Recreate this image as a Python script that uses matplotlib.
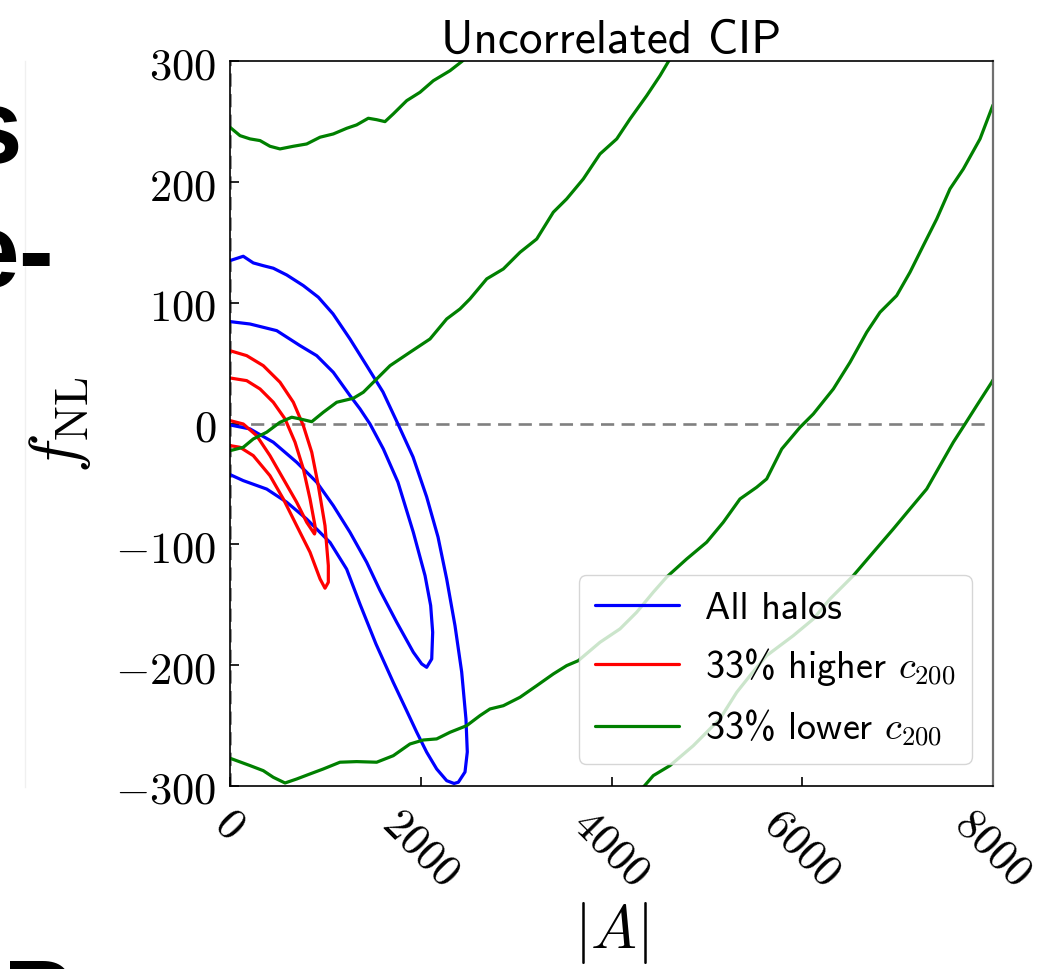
import os
import matplotlib
matplotlib.use("Agg")
import matplotlib as mpl
import matplotlib.pyplot as plt
from matplotlib.font_manager import FontProperties
from matplotlib.lines import Line2D

plt.rcParams["mathtext.fontset"] = "cm"
plt.rcParams["axes.unicode_minus"] = False

# ---------------- data ----------------
title = "Uncorrelated CIP"
xlabel = r"$|A|$"
ylabel = r"$f_{\rm NL}$"
xticks = [0, 2000, 4000, 6000, 8000]
xtick_labels = [r"$0$", r"$2000$", r"$4000$", r"$6000$", r"$8000$"]
yticks = [-300, -200, -100, 0, 100, 200, 300]
ytick_labels = [r"$-300$", r"$-200$", r"$-100$", r"$0$", r"$100$", r"$200$", r"$300$"]
series_labels = ["All halos", r"33% higher $c_{200}$", r"33% lower $c_{200}$"]
series_colors = ["blue", "red", "green"]

# All halos: outer (2 sigma) contour, upper branch then lower branch
blue_outer_A = [0, 139, 244, 349, 454, 595, 769, 926, 1080, 1258, 1433, 1604, 1761,
                1919, 2062, 2181, 2272, 2359, 2429, 2474, 2488, 2464, 2394, 2349,
                2272, 2167, 2062, 1958, 1853, 1712, 1531, 1363, 1223, 1049, 805,
                595, 385, 139, 0]
blue_outer_f = [135.1, 138.7, 133.2, 130.9, 128.8, 123.2, 114.4, 104.8, 91.0, 70.2,
                48.1, 26.3, -0.2, -27.5, -60.6, -93.8, -128.6, -167.2, -205.5,
                -244.5, -271.8, -288.4, -296.9, -297.9, -295.6, -285.9, -272.0,
                -255.5, -237.8, -214.2, -182.5, -149.4, -120.4, -98.3, -79.0,
                -65.0, -54.1, -47.1, -42.1]
# All halos: inner (1 sigma) contour
blue_inner_A = [0, 210, 490, 734, 909, 1083, 1258, 1363, 1468, 1608, 1761, 1922, 2045,
                2104, 2125, 2115, 2062, 2010, 1922, 1748, 1573, 1433, 1258, 1083,
                909, 699, 454, 210, 0]
blue_inner_f = [84.6, 82.6, 77.1, 64.7, 56.4, 42.6, 23.3, 12.3, -0.2, -20.9, -48.4,
                -89.9, -125.8, -150.6, -172.7, -194.8, -201.7, -198.9, -189.2,
                -164.4, -138.1, -114.7, -89.9, -67.8, -48.4, -31.9, -15.3, -4.3, -1.0]

# 33% higher c200: outer contour
red_outer_A = [0, 175, 349, 524, 664, 769, 857, 926, 996, 1031, 1031, 996, 944, 839,
               699, 559, 419, 244, 105, 0]
red_outer_f = [60.5, 56.4, 48.1, 34.4, 17.8, -1.6, -23.6, -51.3, -84.4, -117.5,
               -131.3, -136.2, -128.5, -106.4, -84.4, -62.3, -43.0, -26.4, -19.5, -18.1]
# 33% higher c200: inner contour
red_inner_A = [0, 175, 315, 454, 577, 682, 769, 839, 891, 891, 886, 804, 699, 559,
               419, 280, 139, 0]
red_inner_f = [37.9, 35.7, 28.8, 17.8, 4.0, -15.3, -37.4, -62.3, -84.4, -89.9, -91.3,
               -81.6, -65.0, -45.7, -26.4, -9.9, -0.2, 2.6]

# 33% lower c200: four open branches of the two contours
green_1_A = [0, 105, 210, 315, 419, 524, 664, 804, 944, 1083, 1224, 1328, 1450, 1538,
             1625, 1712, 1853, 1992, 2132, 2307, 2429, 2474]
green_1_f = [245.5, 238.6, 235.9, 234.5, 229.8, 227.6, 229.8, 231.7, 237.3, 240.0,
             244.7, 247.5, 253.0, 251.8, 250.2, 256.6, 267.6, 274.5, 284.1, 292.4,
             299.9, 303.0]
green_2_A = [0, 139, 244, 385, 524, 647, 734, 857, 978, 1119, 1293, 1398, 1538, 1678,
             1887, 2097, 2272, 2412, 2516, 2692, 2866, 3041, 3216, 3390, 3530, 3704,
             3879, 4055, 4194, 4369, 4509, 4596, 4634]
green_2_f = [-22.3, -19.5, -12.6, -7.0, 1.2, 5.4, 4.0, 1.7, 9.5, 17.8, 21.1, 26.1,
             37.1, 48.1, 59.2, 70.2, 86.8, 95.1, 103.4, 120.0, 128.2, 142.0, 153.0,
             175.2, 186.2, 202.7, 223.4, 235.9, 252.4, 271.7, 288.3, 299.9, 304.6]
green_3_A = [0, 210, 349, 454, 577, 699, 839, 978, 1153, 1328, 1538, 1712, 1887, 2027,
             2167, 2307, 2482, 2621, 2726, 2866, 3041, 3216, 3390, 3530, 3652, 3879,
             4089, 4264, 4438, 4579, 4788, 4998, 5172, 5347, 5522, 5627, 5785, 5977,
             6116, 6326, 6501, 6676, 6815, 6990, 7130, 7269, 7410, 7549, 7689, 7864,
             8000]
green_3_f = [-277.0, -283.1, -287.3, -292.8, -297.5, -294.2, -290.0, -285.9, -280.3,
             -279.8, -280.3, -274.9, -265.2, -261.9, -261.0, -255.5, -250.0, -241.7,
             -236.2, -233.5, -226.5, -216.9, -207.2, -200.3, -196.2, -181.0, -169.9,
             -156.1, -139.5, -126.9, -112.0, -98.1, -81.6, -62.3, -52.6, -45.7, -20.9,
             -2.9, 8.1, 28.8, 50.9, 75.8, 92.3, 106.1, 125.5, 147.5, 169.6, 194.5,
             211.0, 235.9, 264.0]
green_4_A = [4333, 4438, 4613, 4858, 5138, 5313, 5452, 5627, 5906, 6116, 6291, 6466,
             6535, 6745, 6955, 7130, 7305, 7444, 7584, 7707, 7829, 7987, 8000]
green_4_f = [-301.0, -291.4, -283.1, -266.6, -244.3, -222.4, -208.6, -192.0, -175.5,
             -161.7, -145.1, -131.3, -125.8, -106.4, -87.1, -70.5, -54.0, -34.7,
             -15.3, -0.2, 15.0, 34.4, 36.3]

# slide text fragments visible at the left edge of the screenshot
fragments = ["s", "e-", "P"]

# ---------------- plot ----------------
cmss_path = os.path.join(mpl.get_data_path(), "fonts", "ttf", "cmss10.ttf")
title_font = FontProperties(fname=cmss_path, size=34)
legend_font = FontProperties(fname=cmss_path, size=27.5)

fig = plt.figure(figsize=(10.48, 9.70), dpi=100)
ax = fig.add_axes([0.21947, 0.18866, 0.72805, 0.74691])

style = dict(lw=2.3, solid_joinstyle="round", solid_capstyle="round")
ax.plot(blue_outer_A, blue_outer_f, color=series_colors[0], label=series_labels[0], **style)
ax.plot(blue_inner_A, blue_inner_f, color=series_colors[0], **style)
ax.plot(red_outer_A, red_outer_f, color=series_colors[1], label=series_labels[1], **style)
ax.plot(red_inner_A, red_inner_f, color=series_colors[1], **style)
ax.plot(green_1_A, green_1_f, color=series_colors[2], label=series_labels[2], **style)
ax.plot(green_2_A, green_2_f, color=series_colors[2], **style)
ax.plot(green_3_A, green_3_f, color=series_colors[2], **style)
ax.plot(green_4_A, green_4_f, color=series_colors[2], **style)

ax.axhline(0, color="gray", ls="--", dashes=(5, 2.8), lw=1.9, zorder=1)
ax.axvline(0, color="gray", ls="--", dashes=(5, 2.8), lw=1.9, zorder=1)

ax.set_xlim(0, 8000)
ax.set_ylim(-300, 300)
ax.set_xticks(xticks)
ax.set_xticklabels(xtick_labels)
ax.set_yticks(yticks)
ax.set_yticklabels(ytick_labels)
ax.tick_params(axis="both", direction="in", length=6.5, width=1.2, labelsize=32,
               top=False, right=False)
ax.tick_params(axis="x", labelrotation=-45, pad=10)
ax.tick_params(axis="y", pad=10)
for side in ["left", "bottom", "top"]:
    ax.spines[side].set_linewidth(1.2)
    ax.spines[side].set_color("black")
ax.spines["right"].set_linewidth(1.6)
ax.spines["right"].set_color("#707070")

ax.set_title(title, fontproperties=title_font, pad=7)
ax.set_xlabel(xlabel, fontsize=44)
ax.set_ylabel(ylabel, fontsize=48)
ax.xaxis.set_label_coords(0.5, -0.156)
ax.yaxis.set_label_coords(-0.18, 0.5)

ax.legend(loc="lower right", bbox_to_anchor=((972 - 230) / 763, (787 - 765) / 724.5),
          borderaxespad=0, prop=legend_font, handlelength=2.2, handletextpad=0.7,
          labelspacing=0.5, borderpad=0.42, framealpha=0.8, fancybox=True)

# background slide fragments
frag_font = dict(family="Liberation Sans", weight="bold", size=76, color="black")
fig.text(22 / 1048, 1 - 163 / 970, fragments[0], ha="right", va="baseline", **frag_font)
fig.text(55 / 1048, 1 - 287 / 970, fragments[1], ha="right", va="baseline", **frag_font)
fig.text(3 / 1048, 1 - 1034 / 970, fragments[2], ha="left", va="baseline", **frag_font)
fig.add_artist(Line2D([25 / 1048, 25 / 1048], [1 - 62 / 970, 1 - 788 / 970],
                      transform=fig.transFigure, color="#f0f0f0", lw=1))

fig.savefig("out.png", dpi=100)
